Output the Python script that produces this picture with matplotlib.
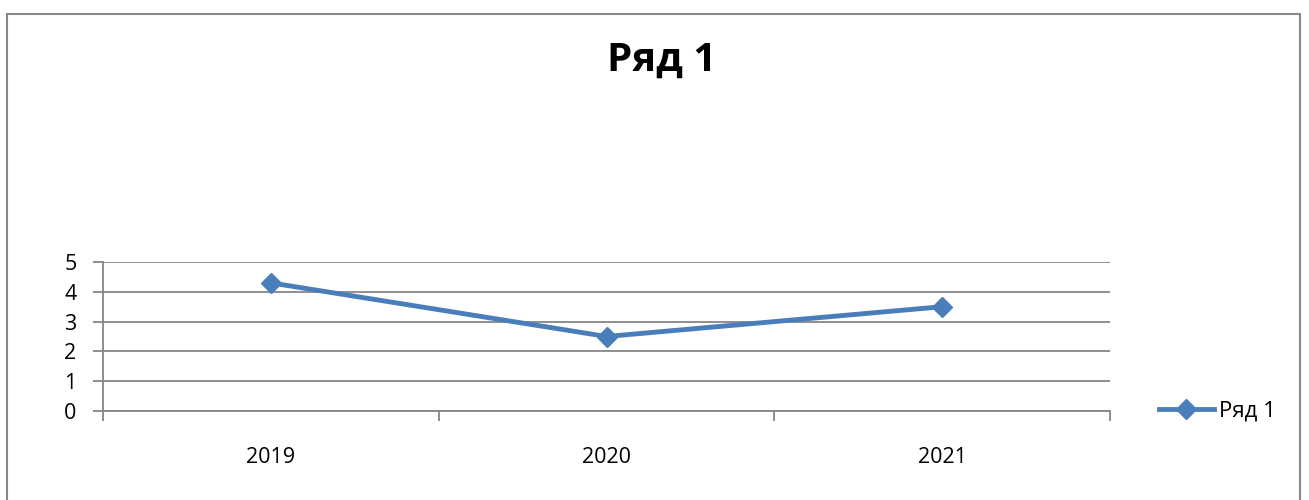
import numpy as np
import matplotlib
matplotlib.use("Agg")
from matplotlib import pyplot as plt
from matplotlib.patches import Rectangle

plt.rcParams['font.family'] = ['Open Sans', 'DejaVu Sans']

# data
years = ['2019', '2020', '2021']
values = [4.3, 2.5, 3.5]
series_name = 'Ряд 1'

line_color = '#4A7EBB'
grid_color = '#868686'

fig = plt.figure(figsize=(13.09, 5.0), dpi=100)

# outer chart frame (bottom runs off the image)
fig.patches.append(Rectangle((7 / 1309, -0.05), 1293 / 1309, 1.05 - 14 / 500,
                             transform=fig.transFigure, fill=False,
                             edgecolor='#888888', linewidth=1.5))

ax = fig.add_axes([103 / 1309, 1 - 411 / 500, 1007 / 1309, 149 / 500])

x = np.arange(len(years))
ax.plot(x, values, color=line_color, linewidth=3.5, marker='D',
        markersize=10, markerfacecolor=line_color, markeredgecolor=line_color,
        label=series_name, clip_on=False)

ax.set_xlim(-0.5, len(years) - 0.5)
ax.set_ylim(0, 5)
ax.set_yticks(range(0, 6))
ax.yaxis.grid(True, color=grid_color, linewidth=1.3)
ax.set_axisbelow(True)

# category labels centred, ticks between categories
ax.set_xticks(x)
ax.set_xticklabels(years, fontsize=15.5)
ax.tick_params(axis='x', length=0, pad=26)
ax.set_xticks(np.arange(-0.5, len(years)), minor=True)
ax.tick_params(axis='x', which='minor', length=7, width=1.3, color=grid_color, direction='out')
ax.tick_params(axis='y', length=7, width=1.3, color=grid_color, labelsize=15.5, pad=12)

for s in ['top', 'right']:
    ax.spines[s].set_visible(False)
ax.spines['left'].set_color(grid_color)
ax.spines['left'].set_linewidth(1.3)
ax.spines['bottom'].set_color(grid_color)
ax.spines['bottom'].set_linewidth(1.3)

fig.text(662 / 1309, 1 - 60 / 500, series_name, fontsize=29, fontweight='bold',
         ha='center', va='center')

fig.legend(loc='center left', bbox_to_anchor=(1143 / 1309, 1 - 411 / 500),
           frameon=False, fontsize=16, handlelength=2.5, handletextpad=0.2,
           borderpad=0.2)

fig.savefig('out.png', dpi=100)
